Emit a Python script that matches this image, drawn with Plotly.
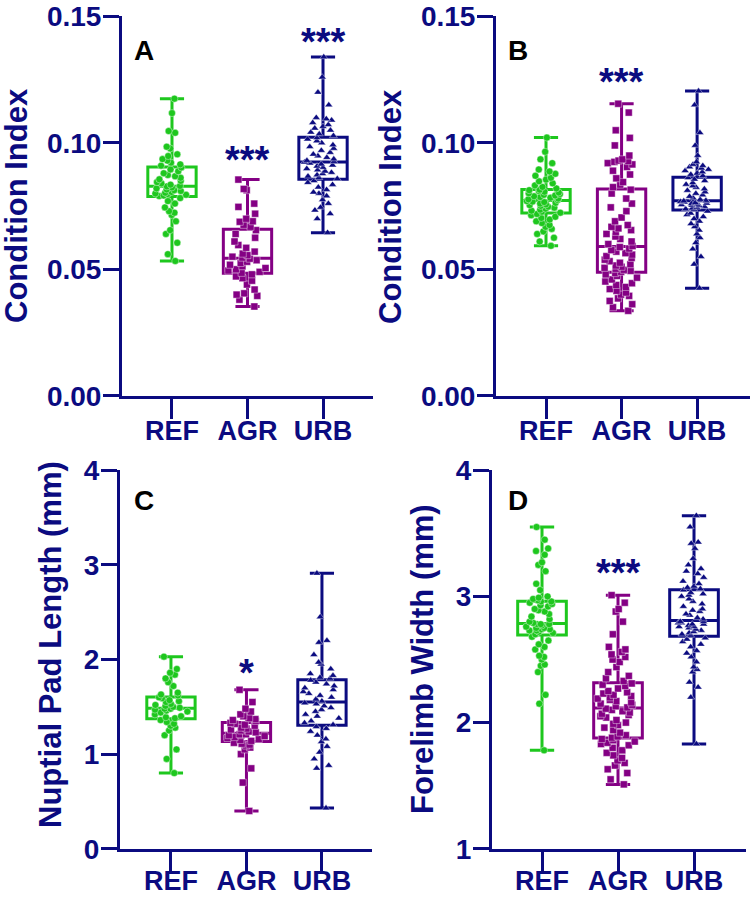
import numpy as np
import plotly.graph_objects as go

# ---------------- data ----------------
groups = ["REF", "AGR", "URB"]

# Panel A: Condition Index
a_ref = [0.0533, 0.0560, 0.0605, 0.0640, 0.0655, 0.0690, 0.0715, 0.0724, 0.0730, 0.0745, 0.0760, 0.0770, 0.0782,
         0.0790, 0.0792, 0.0795, 0.0798, 0.0800, 0.0803, 0.0806, 0.0810, 0.0813, 0.0816, 0.0820, 0.0824, 0.0828,
         0.0830, 0.0835, 0.0840, 0.0845, 0.0850, 0.0856, 0.0862, 0.0868, 0.0873, 0.0880, 0.0888, 0.0895, 0.0903,
         0.0910, 0.0915, 0.0922, 0.0930, 0.0936, 0.0948, 0.0955, 0.0978, 0.0985, 0.1040, 0.1047, 0.1118, 0.1175]
a_agr = [0.0353, 0.0380, 0.0395, 0.0400, 0.0405, 0.0420, 0.0440, 0.0455, 0.0465, 0.0472, 0.0480,
         0.0486, 0.0490, 0.0495, 0.0500, 0.0505, 0.0512, 0.0518, 0.0525, 0.0530, 0.0536, 0.0542,
         0.0546, 0.0550, 0.0556, 0.0562, 0.0570, 0.0585, 0.0596, 0.0610, 0.0625, 0.0640, 0.0655,
         0.0668, 0.0676, 0.0688, 0.0690, 0.0700, 0.0720, 0.0747, 0.0760, 0.0813, 0.0818, 0.0855]
a_urb = [0.0645, 0.0700, 0.0720, 0.0734, 0.0745, 0.0760, 0.0775, 0.0790, 0.0800, 0.0805, 0.0815, 0.0825, 0.0835, 0.0843, 0.0850,
         0.0858, 0.0862, 0.0868, 0.0873, 0.0878, 0.0883, 0.0888, 0.0893, 0.0898, 0.0903, 0.0908, 0.0912, 0.0916, 0.0920, 0.0924,
         0.0926, 0.0930, 0.0936, 0.0942, 0.0948, 0.0955, 0.0962, 0.0970, 0.0978, 0.0985, 0.0992, 0.1000, 0.1008, 0.1015, 0.1020,
         0.1028, 0.1035, 0.1042, 0.1050, 0.1058, 0.1065, 0.1072, 0.1080, 0.1090, 0.1095, 0.1100, 0.1150, 0.1200, 0.1260, 0.1340]

# Panel B: Condition Index
b_ref = [0.0593, 0.0610, 0.0625, 0.0640, 0.0650, 0.0660, 0.0668, 0.0675, 0.0683, 0.0690, 0.0697, 0.0703, 0.0708, 0.0714, 0.0719,
         0.0724, 0.0728, 0.0732, 0.0736, 0.0740, 0.0744, 0.0748, 0.0751, 0.0754, 0.0757, 0.0760, 0.0763, 0.0766, 0.0768, 0.0770,
         0.0774, 0.0777, 0.0780, 0.0783, 0.0786, 0.0789, 0.0792, 0.0795, 0.0798, 0.0801, 0.0804, 0.0807, 0.0810, 0.0813, 0.0815,
         0.0820, 0.0826, 0.0832, 0.0840, 0.0848, 0.0855, 0.0862, 0.0870, 0.0878, 0.0887, 0.0895, 0.0920, 0.0935, 0.0965, 0.1021]
b_agr = [0.0336, 0.0350, 0.0362, 0.0375, 0.0385, 0.0395, 0.0400, 0.0408, 0.0415, 0.0422, 0.0430, 0.0438, 0.0445, 0.0452, 0.0460, 0.0467, 0.0474, 0.0480, 0.0485,
         0.0490, 0.0494, 0.0498, 0.0502, 0.0506, 0.0510, 0.0515, 0.0520, 0.0526, 0.0532, 0.0538, 0.0545, 0.0552, 0.0558, 0.0564, 0.0570, 0.0576, 0.0582, 0.0588,
         0.0592, 0.0600, 0.0610, 0.0620, 0.0630, 0.0640, 0.0648, 0.0655, 0.0662, 0.0668, 0.0675, 0.0690, 0.0705, 0.0730, 0.0745, 0.0760, 0.0780, 0.0800, 0.0815,
         0.0825, 0.0835, 0.0845, 0.0860, 0.0875, 0.0890, 0.0905, 0.0915, 0.0920, 0.0925, 0.0928, 0.0930, 0.0935, 0.0950, 0.0990, 0.1020, 0.1050, 0.1120, 0.1155]
b_urb = [0.0425, 0.0520, 0.0550, 0.0580, 0.0605, 0.0625, 0.0640, 0.0655, 0.0668, 0.0680, 0.0690, 0.0700, 0.0708, 0.0716, 0.0722, 0.0730,
         0.0736, 0.0739, 0.0742, 0.0745, 0.0748, 0.0751, 0.0753, 0.0755, 0.0757, 0.0759, 0.0761, 0.0763, 0.0765, 0.0767, 0.0769, 0.0770,
         0.0772, 0.0776, 0.0782, 0.0788, 0.0794, 0.0800, 0.0806, 0.0812, 0.0818, 0.0824, 0.0830, 0.0836, 0.0842, 0.0850, 0.0856, 0.0862,
         0.0870, 0.0875, 0.0880, 0.0885, 0.0890, 0.0895, 0.0900, 0.0905, 0.0910, 0.0915, 0.0925, 0.0950, 0.0990, 0.1040, 0.1150, 0.1205]

# Panel C: Nuptial Pad Length (mm)
c_ref = [0.80, 0.95, 1.05, 1.20, 1.25, 1.28, 1.30, 1.32, 1.34, 1.36,
         1.38, 1.39, 1.40, 1.42, 1.44, 1.45, 1.46, 1.47, 1.48, 1.48,
         1.49, 1.50, 1.51, 1.52, 1.53, 1.55, 1.56, 1.57, 1.59, 1.60,
         1.62, 1.63, 1.65, 1.72, 1.76, 1.80, 1.84, 1.86, 1.90, 2.03]
c_agr = [0.40, 0.70, 0.85, 1.00, 1.05, 1.07, 1.09, 1.10, 1.11, 1.12,
         1.14, 1.15, 1.16, 1.17, 1.18, 1.19, 1.20, 1.20, 1.21, 1.21,
         1.23, 1.24, 1.25, 1.26, 1.27, 1.28, 1.30, 1.31, 1.32, 1.33,
         1.35, 1.36, 1.37, 1.38, 1.40, 1.42, 1.45, 1.48, 1.55, 1.68]
c_urb = [0.43, 0.85, 0.88, 0.95, 1.02, 1.08, 1.13, 1.16, 1.20, 1.24, 1.27, 1.29,
         1.31, 1.33, 1.35, 1.38, 1.40, 1.42, 1.45, 1.47, 1.49, 1.51, 1.53, 1.54,
         1.56, 1.58, 1.60, 1.62, 1.64, 1.66, 1.68, 1.70, 1.72, 1.74, 1.76, 1.78,
         1.80, 1.81, 1.83, 1.85, 1.90, 1.95, 1.97, 2.05, 2.18, 2.20, 2.45, 2.91]

# Panel D: Forelimb Width (mm)
d_ref = [1.78, 2.15, 2.22, 2.40, 2.45, 2.46, 2.50, 2.52, 2.53, 2.58, 2.60, 2.62, 2.65, 2.68,
         2.70, 2.71, 2.72, 2.73, 2.73, 2.74, 2.74, 2.75, 2.75, 2.76, 2.77, 2.78, 2.78, 2.78,
         2.79, 2.80, 2.82, 2.84, 2.86, 2.88, 2.89, 2.90, 2.92, 2.93, 2.94, 2.95, 2.96, 2.96,
         2.97, 2.98, 2.99, 3.00, 3.05, 3.10, 3.20, 3.25, 3.27, 3.33, 3.36, 3.38, 3.45, 3.55]
d_agr = [1.51, 1.55, 1.60, 1.63, 1.66, 1.68, 1.70, 1.72, 1.74, 1.76, 1.78, 1.80, 1.82, 1.83, 1.84, 1.85, 1.86, 1.87,
         1.88, 1.89, 1.90, 1.92, 1.94, 1.96, 1.98, 1.99, 2.00, 2.02, 2.04, 2.05, 2.06, 2.07, 2.08, 2.09, 2.10, 2.11,
         2.12, 2.13, 2.14, 2.15, 2.16, 2.17, 2.18, 2.19, 2.20, 2.21, 2.22, 2.23, 2.24, 2.25, 2.27, 2.29, 2.30, 2.31,
         2.33, 2.35, 2.37, 2.40, 2.44, 2.48, 2.50, 2.52, 2.54, 2.56, 2.58, 2.60, 2.70, 2.80, 2.88, 2.90, 2.95, 3.01]
d_urb = [1.83, 2.20, 2.28, 2.32, 2.40, 2.42, 2.44, 2.48, 2.52, 2.55, 2.57, 2.60, 2.62, 2.64, 2.66, 2.67,
         2.69, 2.70, 2.71, 2.72, 2.73, 2.74, 2.75, 2.76, 2.76, 2.77, 2.78, 2.78, 2.79, 2.79, 2.80, 2.80,
         2.82, 2.83, 2.85, 2.86, 2.88, 2.89, 2.90, 2.92, 2.94, 2.96, 2.98, 3.00, 3.01, 3.02, 3.03, 3.05,
         3.06, 3.07, 3.08, 3.10, 3.12, 3.15, 3.18, 3.20, 3.22, 3.25, 3.30, 3.38, 3.42, 3.43, 3.55, 3.64]

panel_letters = ["A", "B", "C", "D"]
y_titles = ["Condition Index", "Condition Index", "Nuptial Pad Length (mm)", "Forelimb Width (mm)"]
y_tickvals = [[0.0, 0.05, 0.10, 0.15], [0.0, 0.05, 0.10, 0.15], [0, 1, 2, 3, 4], [1, 2, 3, 4]]
y_ticktext = [["0.00", "0.05", "0.10", "0.15"], ["0.00", "0.05", "0.10", "0.15"],
              ["0", "1", "2", "3", "4"], ["1", "2", "3", "4"]]
# significance labels: (panel index, group, label, y value)
sig_marks = [(0, "AGR", "***", 0.0947), (0, "URB", "***", 0.1413),
             (1, "AGR", "***", 0.1255), (2, "AGR", "*", 1.90), (3, "AGR", "***", 3.216)]

panels = [[a_ref, a_agr, a_urb], [b_ref, b_agr, b_urb], [c_ref, c_agr, c_urb], [d_ref, d_agr, d_urb]]

# ---------------- styling ----------------
NAVY = "#0b0b80"
colors = {"REF": "#1ec71e", "AGR": "#840084", "URB": "#0b0b80"}
symbols = {"REF": "circle", "AGR": "square", "URB": "triangle-up"}
FONT = "Liberation Sans, Arial, sans-serif"
W, H = 752, 897

# pixel layout of each panel: (x0, x1, ytop, ybottom), x range, y range, x-label standoff
geo = [
    dict(px=(122, 373), py=(16, 396), xr=[-0.662, 2.662], yr=[-0.0001, 0.1502], so=-11),
    dict(px=(496, 750), py=(16, 396), xr=[-0.662, 2.70], yr=[-0.0001, 0.1502], so=-11),
    dict(px=(120, 372), py=(470, 849), xr=[-0.675, 2.663], yr=[-0.002, 4.002], so=-14),
    dict(px=(492, 746), py=(470, 849), xr=[-0.658, 2.684], yr=[0.998, 4.002], so=-14),
]
title_pos = [(16, 206), (390, 206), (50, 645), (422, 659)]
letter_pos = [(144, 51), (518, 51), (144, 500), (518, 500)]

fig = go.Figure()
layout = dict(width=W, height=H, margin=dict(l=0, r=0, t=0, b=0, autoexpand=False),
              paper_bgcolor="white", plot_bgcolor="white", showlegend=False,
              boxmode="overlay")
annotations = []

for i, (vals, g) in enumerate(zip(panels, geo)):
    sfx = "" if i == 0 else str(i + 1)
    xa, ya = "x" + sfx, "y" + sfx
    for grp, v in zip(groups, vals):
        arr = np.array(v)
        col = colors[grp]
        fig.add_trace(go.Box(
            x=[grp], q1=[np.percentile(arr, 25)], median=[np.median(arr)],
            q3=[np.percentile(arr, 75)], lowerfence=[arr.min()], upperfence=[arr.max()],
            xaxis=xa, yaxis=ya, width=0.64, whiskerwidth=0.5,
            line=dict(color=col, width=3), fillcolor="rgba(0,0,0,0)",
            boxpoints=False, hoverinfo="skip"))
        fig.add_trace(go.Box(
            x=[grp] * len(v), y=v, xaxis=xa, yaxis=ya, width=0.64,
            boxpoints="all", jitter=0.85, pointpos=0,
            line=dict(color="rgba(0,0,0,0)", width=0), fillcolor="rgba(0,0,0,0)",
            marker=dict(color=col, symbol=symbols[grp], size=7,
                        line=dict(color="white", width=0.4)),
            hoverinfo="y"))
    x0, x1 = g["px"]
    yt, yb = g["py"]
    common = dict(showline=True, linewidth=3, linecolor=NAVY, ticks="outside",
                  tickwidth=3, tickcolor=NAVY, showgrid=False, zeroline=False,
                  automargin=False)
    layout["xaxis" + sfx] = dict(common, domain=[x0 / W, x1 / W], range=g["xr"],
                                 anchor=ya, type="category",
                                 categoryorder="array", categoryarray=groups,
                                 ticklen=20, ticklabelstandoff=g["so"],
                                 tickfont=dict(family=FONT, size=27, color=NAVY, weight="bold"))
    layout["yaxis" + sfx] = dict(common, domain=[1 - yb / H, 1 - yt / H], range=g["yr"],
                                 anchor=xa, tickvals=y_tickvals[i], ticktext=y_ticktext[i],
                                 ticklen=16, ticklabelstandoff=-4,
                                 tickfont=dict(family=FONT, size=28, color=NAVY, weight="bold"))
    tx, ty = title_pos[i]
    annotations.append(dict(text=y_titles[i], x=tx / W, y=1 - ty / H, xref="paper", yref="paper",
                            textangle=-90, showarrow=False, xanchor="center", yanchor="middle",
                            font=dict(family=FONT, size=31, color=NAVY, weight="bold")))
    lx, ly = letter_pos[i]
    annotations.append(dict(text=panel_letters[i], x=lx / W, y=1 - ly / H, xref="paper", yref="paper",
                            showarrow=False, xanchor="center", yanchor="middle",
                            font=dict(family=FONT, size=28, color="black", weight="bold")))

for (pi, grp, lab, yv) in sig_marks:
    sfx = "" if pi == 0 else str(pi + 1)
    annotations.append(dict(text=lab, x=grp, y=yv, xref="x" + sfx, yref="y" + sfx,
                            showarrow=False, xanchor="center", yanchor="middle", yshift=-4,
                            font=dict(family=FONT, size=38, color=NAVY, weight="bold")))

layout["annotations"] = annotations
fig.update_layout(**layout)
fig.write_html("out.html", config={"displayModeBar": False},
               post_script="document.body.style.margin='0px';document.body.style.overflow='hidden';")
